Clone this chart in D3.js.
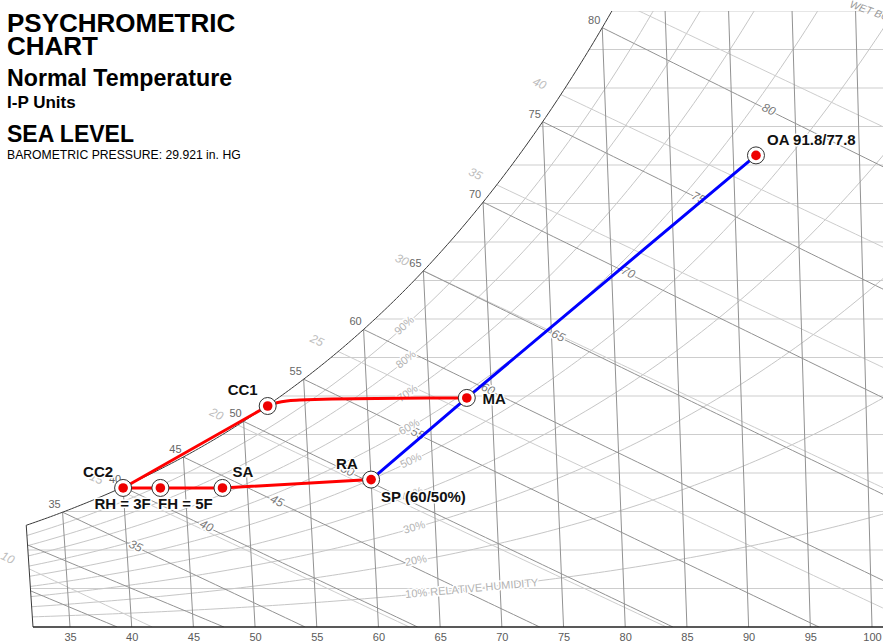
<!DOCTYPE html>
<html><head><meta charset="utf-8">
<script src="https://cdn.jsdelivr.net/npm/d3@7"></script>
<style>
html,body{margin:0;padding:0;background:#fff;}
svg{display:block;font-family:"Liberation Sans",Arial,sans-serif;}
</style></head><body>
<svg id="chart" width="883" height="644"></svg>
<script>
// ================= DATA =================
const dryBulbTicks = [35,40,45,50,55,60,65,70,75,80,85,90,95,100];
const saturationLabels = [35,40,45,50,55,60,65,70,75,80];
const wetBulbValues = [25,30,35,40,45,50,55,60,65,70,75,80];
const wetBulbLabelValues = [35,40,45,50,55,60,65,70,75,80];
const enthalpyValues = [10,15,20,25,30,35,40,45];
const enthalpyLabelValues = [10,15,20,25,30,35,40];
const rhValues = [10,20,30,40,50,60,70,80,90];
const rhLabels = ["10% RELATIVE HUMIDITY","20%","30%","40%","50%","60%","70%","80%","90%"];
const humidityGrains = [10,20,30,40,50,60,70,80,90,100,110,120,130,140,150,160];

const pointNames = ["CC2","RH","SA","SP","MA","CC1","OA"];
const pointDryBulb = [40, 43, 48, 60, 68, 52, 91.8];
const pointHumRatio = [0.00516, 0.00516, 0.00516, 0.00547, 0.0085, 0.0082, 0.0175];

const redPathA = ["CC2","RH","SA","SP"];
const redPathB = ["CC2","CC1"];
const coilCurveT = [52, 52.75, 53.55, 54.6, 57.2, 62.6, 68];
const coilCurveW = [0.0082, 0.00832, 0.00839, 0.00842, 0.00846, 0.00849, 0.0085];
const bluePath = ["SP","MA","OA"];

const labelTexts = ["CC2","RH = 3F","FH = 5F","SA","RA","SP (60/50%)","MA","CC1","OA 91.8/77.8"];
const labelPoints = ["CC2","RH","SA","SA","SP","SP","MA","CC1","OA"];

const titleLines = ["PSYCHROMETRIC","CHART","Normal Temperature","I-P Units","SEA LEVEL","BAROMETRIC PRESSURE: 29.921 in. HG"];

// ================= PSYCHROMETRICS =================
const P = 14.696;
function pws(Tf){
  const T = Tf + 459.67;
  if (Tf >= 32) return Math.exp(-1.0440397e4/T - 1.1294650e1 - 2.7022355e-2*T + 1.2890360e-5*T*T - 2.4780681e-9*T*T*T + 6.5459673*Math.log(T));
  return Math.exp(-1.0214165e4/T - 4.8932428 - 5.3765794e-3*T + 1.9202377e-7*T*T + 3.5575832e-10*T*T*T - 9.0344688e-14*T*T*T*T + 4.1635019*Math.log(T));
}
function Ws(T){ const p = pws(T); return 0.621945*p/(P-p); }
function Wrh(T, rh){ const p = rh*pws(T); return 0.621945*p/(P-p); }
function Wwb(T, Twb){
  const ws = Ws(Twb);
  if (Twb >= 32) return ((1093-0.556*Twb)*ws - 0.240*(T-Twb))/(1093+0.444*T-Twb);
  return ((1220-0.04*Twb)*ws - 0.240*(T-Twb))/(1220+0.444*T-0.48*Twb);
}
function Wh(T,h){ return (h-0.240*T)/(1061+0.444*T); }
function bisect(f, a, b){ // f(a)>0, f(b)<0
  for (let i=0;i<60;i++){ const m=(a+b)/2; if (f(m)>0) a=m; else b=m; }
  return (a+b)/2;
}

// ================= SCALES =================
const svg = d3.select("#chart");
const x = d3.scaleLinear().domain([35,100]).range([70,872]);
const y = d3.scaleLinear().domain([0, 627/26950]).range([627,0]);
const W_TOP = 160/7000;
const T_MIN = 32;
const skewC = (x(100)-x(35))/65/0.24;
function px(T,W){ return x(T) + skewC*W*(0.305*T - 44.5); }
function pt(T,W){ return [px(T,W), y(W)]; }
const line = d3.line();

svg.append("defs").append("clipPath").attr("id","clip")
  .append("rect").attr("x",0).attr("y",y(W_TOP)).attr("width",883).attr("height",627-y(W_TOP));
const grid = svg.append("g").attr("clip-path","url(#clip)").attr("fill","none");

const LIGHT = "#cdcdcd", DARK = "#929292";

// humidity ratio lines
humidityGrains.forEach(g=>{
  const W = g/7000;
  const T0 = W < Ws(T_MIN) ? T_MIN : bisect(T=>W-Ws(T), 0, 120);
  grid.append("path").attr("d", line([pt(T0,W), pt(110,W)])).attr("stroke",LIGHT).attr("stroke-width",1);
});

// relative humidity curves
rhValues.forEach(r=>{
  const pts = d3.range(T_MIN, 112, 0.5).map(T=>pt(T, Wrh(T, r/100)));
  grid.append("path").attr("d", line(pts)).attr("stroke","#c6c6c6").attr("stroke-width",1);
});

// enthalpy lines
const enthStart = {};
enthalpyValues.forEach(h=>{
  let T0;
  if (Wh(T_MIN,h) < Ws(T_MIN)) T0 = T_MIN;
  else T0 = bisect(T=>Wh(T,h)-Ws(T), T_MIN, 120);
  enthStart[h] = T0;
  const T1 = h/0.24;
  const pts = d3.range(T0, T1, 0.5).map(T=>pt(T, Wh(T,h)));
  pts.push(pt(T1,0));
  grid.append("path").attr("d", line(pts)).attr("stroke",LIGHT).attr("stroke-width",1);
});

// wet bulb lines
wetBulbValues.forEach(tw=>{
  const T0 = Math.max(tw, T_MIN);
  const T1 = bisect(T=>Wwb(T,tw), T0, 160);
  const pts = d3.range(T0, T1, 0.5).map(T=>pt(T, Wwb(T,tw)));
  pts.push(pt(T1,0));
  grid.append("path").attr("d", line(pts)).attr("stroke",DARK).attr("stroke-width",1);
});

// dry bulb lines
dryBulbTicks.forEach(T=>{
  const Wt = Math.min(Ws(T), W_TOP);
  grid.append("path").attr("d", line([pt(T,0), pt(T,Wt)])).attr("stroke",DARK).attr("stroke-width",1);
});

// saturation curve + left edge
const satPts = d3.range(T_MIN, 90, 0.25).map(T=>pt(T, Ws(T)));
grid.append("path").attr("d", line(satPts)).attr("stroke","#3a3a3a").attr("stroke-width",1);
grid.append("path").attr("d", line([pt(T_MIN,0), pt(T_MIN,Ws(T_MIN))])).attr("stroke","#3a3a3a").attr("stroke-width",1);

// bottom axis
const axis = svg.append("g").attr("transform","translate(0,627)")
  .call(d3.axisBottom(x).tickValues(dryBulbTicks).tickSize(0).tickPadding(6));
axis.select(".domain").remove();
axis.selectAll("text").attr("fill","#5a5a5a").style("font-size","11px").style("font-family","Liberation Sans, Arial, sans-serif");
svg.append("line").attr("x1",px(T_MIN,0)).attr("x2",883).attr("y1",627).attr("y2",627)
  .attr("stroke","#222").attr("stroke-width",1.3);

// ---- grid labels ----
const labels = svg.append("g");
function angleOf(a,b){ return Math.atan2(b[1]-a[1], b[0]-a[0])*180/Math.PI; }
function halo(sel, w){ return sel.attr("stroke","#fff").attr("stroke-width",w).attr("paint-order","stroke").attr("stroke-linejoin","round"); }

// dry bulb labels on saturation
saturationLabels.forEach(T=>{
  const p = pt(T, Ws(T));
  labels.append("text").attr("x",p[0]-8).attr("y",p[1]-7).attr("text-anchor","middle")
    .attr("dominant-baseline","middle").attr("fill","#666").style("font-size","11px").text(T);
});

// enthalpy labels
enthalpyLabelValues.forEach(h=>{
  const T0 = enthStart[h];
  const s = pt(T0, Wh(T0,h)), e = pt(T0+2, Wh(T0+2,h));
  const dx=e[0]-s[0], dy=e[1]-s[1], L=Math.hypot(dx,dy);
  const cx = s[0]-24*dx/L, cy = s[1]-24*dy/L;
  labels.append("text").attr("transform",`translate(${cx},${cy}) rotate(${angleOf(s,e)})`)
    .attr("text-anchor","middle").attr("dominant-baseline","middle")
    .attr("fill","#bdbdbd").style("font-size","12px").style("font-style","italic").text(h);
});

// wet bulb labels
wetBulbLabelValues.forEach(tw=>{
  const Tl = tw + 5.7 + 0.16*(tw-35);
  const a = pt(Tl-1, Wwb(Tl-1,tw)), b = pt(Tl+1, Wwb(Tl+1,tw)), c = pt(Tl, Wwb(Tl,tw));
  halo(labels.append("text"),3).attr("transform",`translate(${c[0]},${c[1]}) rotate(${angleOf(a,b)})`)
    .attr("text-anchor","middle").attr("dominant-baseline","middle")
    .attr("fill","#7a7a7a").style("font-size","12px").style("font-style","italic").text(tw);
});

// RH labels
rhValues.forEach((r,i)=>{
  const first = i===0;
  const Tl = first ? 62.3 : 63.3;
  const a = pt(Tl-0.5, Wrh(Tl-0.5,r/100)), b = pt(Tl+0.5, Wrh(Tl+0.5,r/100)), c = pt(Tl, Wrh(Tl,r/100));
  halo(labels.append("text"),3).attr("transform",`translate(${c[0]},${c[1]}) rotate(${angleOf(a,b)})`)
    .attr("text-anchor", first ? "start" : "middle").attr("dominant-baseline","middle")
    .attr("fill","#b3b3b3").style("font-size","11px").text(rhLabels[i]);
});

// wet bulb title at top-right (cut by the frame edge, as in the original)
labels.append("text").attr("transform","translate(849,7) rotate(20)")
  .attr("fill","#9a9a9a").style("font-size","10.5px").style("font-style","italic").text("WET BULB TEMPERATURE - °F");

// ---- title block ----
const tb = svg.append("g").attr("fill","#000");
const titleSizes = [26,26,23.2,17,23,12.2];
const titleY = [32,55,86,108,142,158.5];
titleLines.forEach((t,i)=>{
  tb.append("text").attr("x",7).attr("y",titleY[i]).style("font-size",titleSizes[i]+"px")
    .style("font-weight", i===5 ? "normal" : "bold").text(t);
});

// ================= PROCESS =================
const P_ = {};
pointNames.forEach((n,i)=>{ P_[n] = pt(pointDryBulb[i], pointHumRatio[i]); });

const proc = svg.append("g").attr("fill","none").attr("stroke-linecap","round").attr("stroke-linejoin","round");
proc.append("path").attr("d", line(bluePath.map(n=>P_[n]))).attr("stroke","#0000ff").attr("stroke-width",3);
proc.append("path").attr("d", line(redPathA.map(n=>P_[n]))).attr("stroke","#ff0000").attr("stroke-width",3);
proc.append("path").attr("d", line(redPathB.map(n=>P_[n]))).attr("stroke","#ff0000").attr("stroke-width",3);
proc.append("path").attr("d", d3.line().curve(d3.curveCatmullRom)(coilCurveT.map((T,i)=>pt(T,coilCurveW[i]))))
  .attr("stroke","#ff0000").attr("stroke-width",3);

const mk = svg.append("g");
pointNames.forEach(n=>{
  const p = P_[n];
  mk.append("circle").attr("cx",p[0]).attr("cy",p[1]).attr("r",8.5).attr("fill","#fff").attr("stroke","#333").attr("stroke-width",1);
  mk.append("circle").attr("cx",p[0]).attr("cy",p[1]).attr("r",4.8).attr("fill","#ee0000");
});

// point labels
const labelOffsets = [[-40,-11],[-66,21],[-64.4,21],[10,-11],[-35,-11],[10,22.4],[15.7,6],[-40,-11],[11,-10.7]];
const pl = svg.append("g");
labelTexts.forEach((t,i)=>{
  const p = P_[labelPoints[i]];
  halo(pl.append("text"),3).attr("x",p[0]+labelOffsets[i][0]).attr("y",p[1]+labelOffsets[i][1])
    .attr("fill","#111").style("font-size","15px").style("font-weight","bold").text(t);
});
</script>
</body></html>
